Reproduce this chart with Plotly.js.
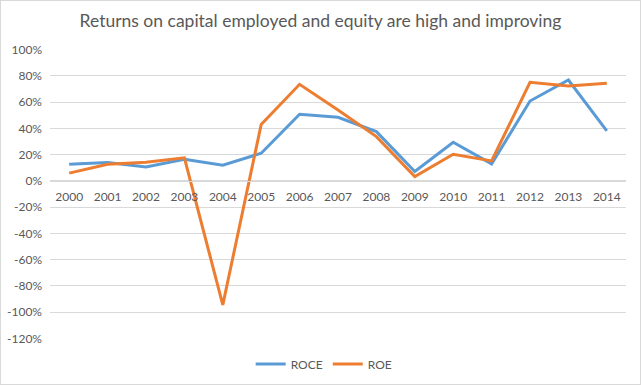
<!DOCTYPE html>
<html>
<head>
<meta charset="utf-8">
<script src="https://cdn.plot.ly/plotly-3.0.1.min.js"></script>
<style>
html,body{margin:0;padding:0;background:#fff;}
#wrap{width:639px;height:383px;border:1px solid #d9d9d9;}
#chart{width:639px;height:383px;}
</style>
</head>
<body>
<div id="wrap"><div id="chart"></div></div>
<script>
const years = ["2000","2001","2002","2003","2004","2005","2006","2007","2008","2009","2010","2011","2012","2013","2014"];
const roce = [12.7, 13.9, 10.6, 16.5, 11.9, 21.0, 50.7, 48.4, 37.5, 7.1, 29.4, 12.9, 60.8, 76.8, 38.0];
const roe  = [5.9, 12.7, 14.2, 17.5, -94.4, 43.0, 73.5, 54.0, 33.7, 3.3, 20.3, 15.2, 75.0, 72.2, 74.3];
const yTicks = [-120, -100, -80, -60, -40, -20, 0, 20, 40, 60, 80, 100];
const yTickText = yTicks.map(v => v + "%");
const titleText = "Returns on capital employed and equity are high and improving";

const fontFam = "Lato, 'Open Sans', sans-serif";
const yMin = -120, yMax = 100;

const traces = [
  {x: years, y: roce, name: "ROCE", type: "scatter", mode: "lines",
   line: {color: "#5B9BD5", width: 3}},
  {x: years, y: roe, name: "ROE", type: "scatter", mode: "lines",
   line: {color: "#ED7D31", width: 3}}
];

const layout = {
  width: 639, height: 383,
  margin: {l: 49, r: 14, t: 48, b: 45, autoexpand: false},
  paper_bgcolor: "#fff", plot_bgcolor: "#fff",
  font: {family: fontFam, color: "#595959", size: 12},
  title: {text: titleText, font: {family: fontFam, size: 17.5, color: "#595959"},
          x: 0.5, xanchor: "center", y: 0.052, yanchor: "middle", yref: "container"},
  xaxis: {type: "category", range: [-0.5, 14.5], showgrid: false,
          anchor: "free", position: (0 - yMin) / (yMax - yMin),
          showline: true, linecolor: "#d9d9d9", linewidth: 1,
          ticks: "", ticklabelstandoff: 5, tickfont: {size: 12, color: "#595959"}, fixedrange: true},
  yaxis: {range: [yMin - 0.4, yMax + 0.4], tickmode: "array", tickvals: yTicks, ticktext: yTickText,
          showgrid: true, gridcolor: "#d9d9d9", gridwidth: 1, zeroline: false,
          showline: false, ticks: "", ticklabelstandoff: 7,
          tickfont: {size: 12, color: "#595959"}, fixedrange: true},
  showlegend: true,
  legend: {orientation: "h", x: 0.476, xanchor: "center", y: -0.086, yanchor: "middle",
           font: {size: 12, color: "#595959"}, itemwidth: 30, tracegroupgap: 0}
};
layout.title.y = 1 - 20 / 383;

Plotly.newPlot("chart", traces, layout, {displayModeBar: false, staticPlot: true});
</script>
</body>
</html>
